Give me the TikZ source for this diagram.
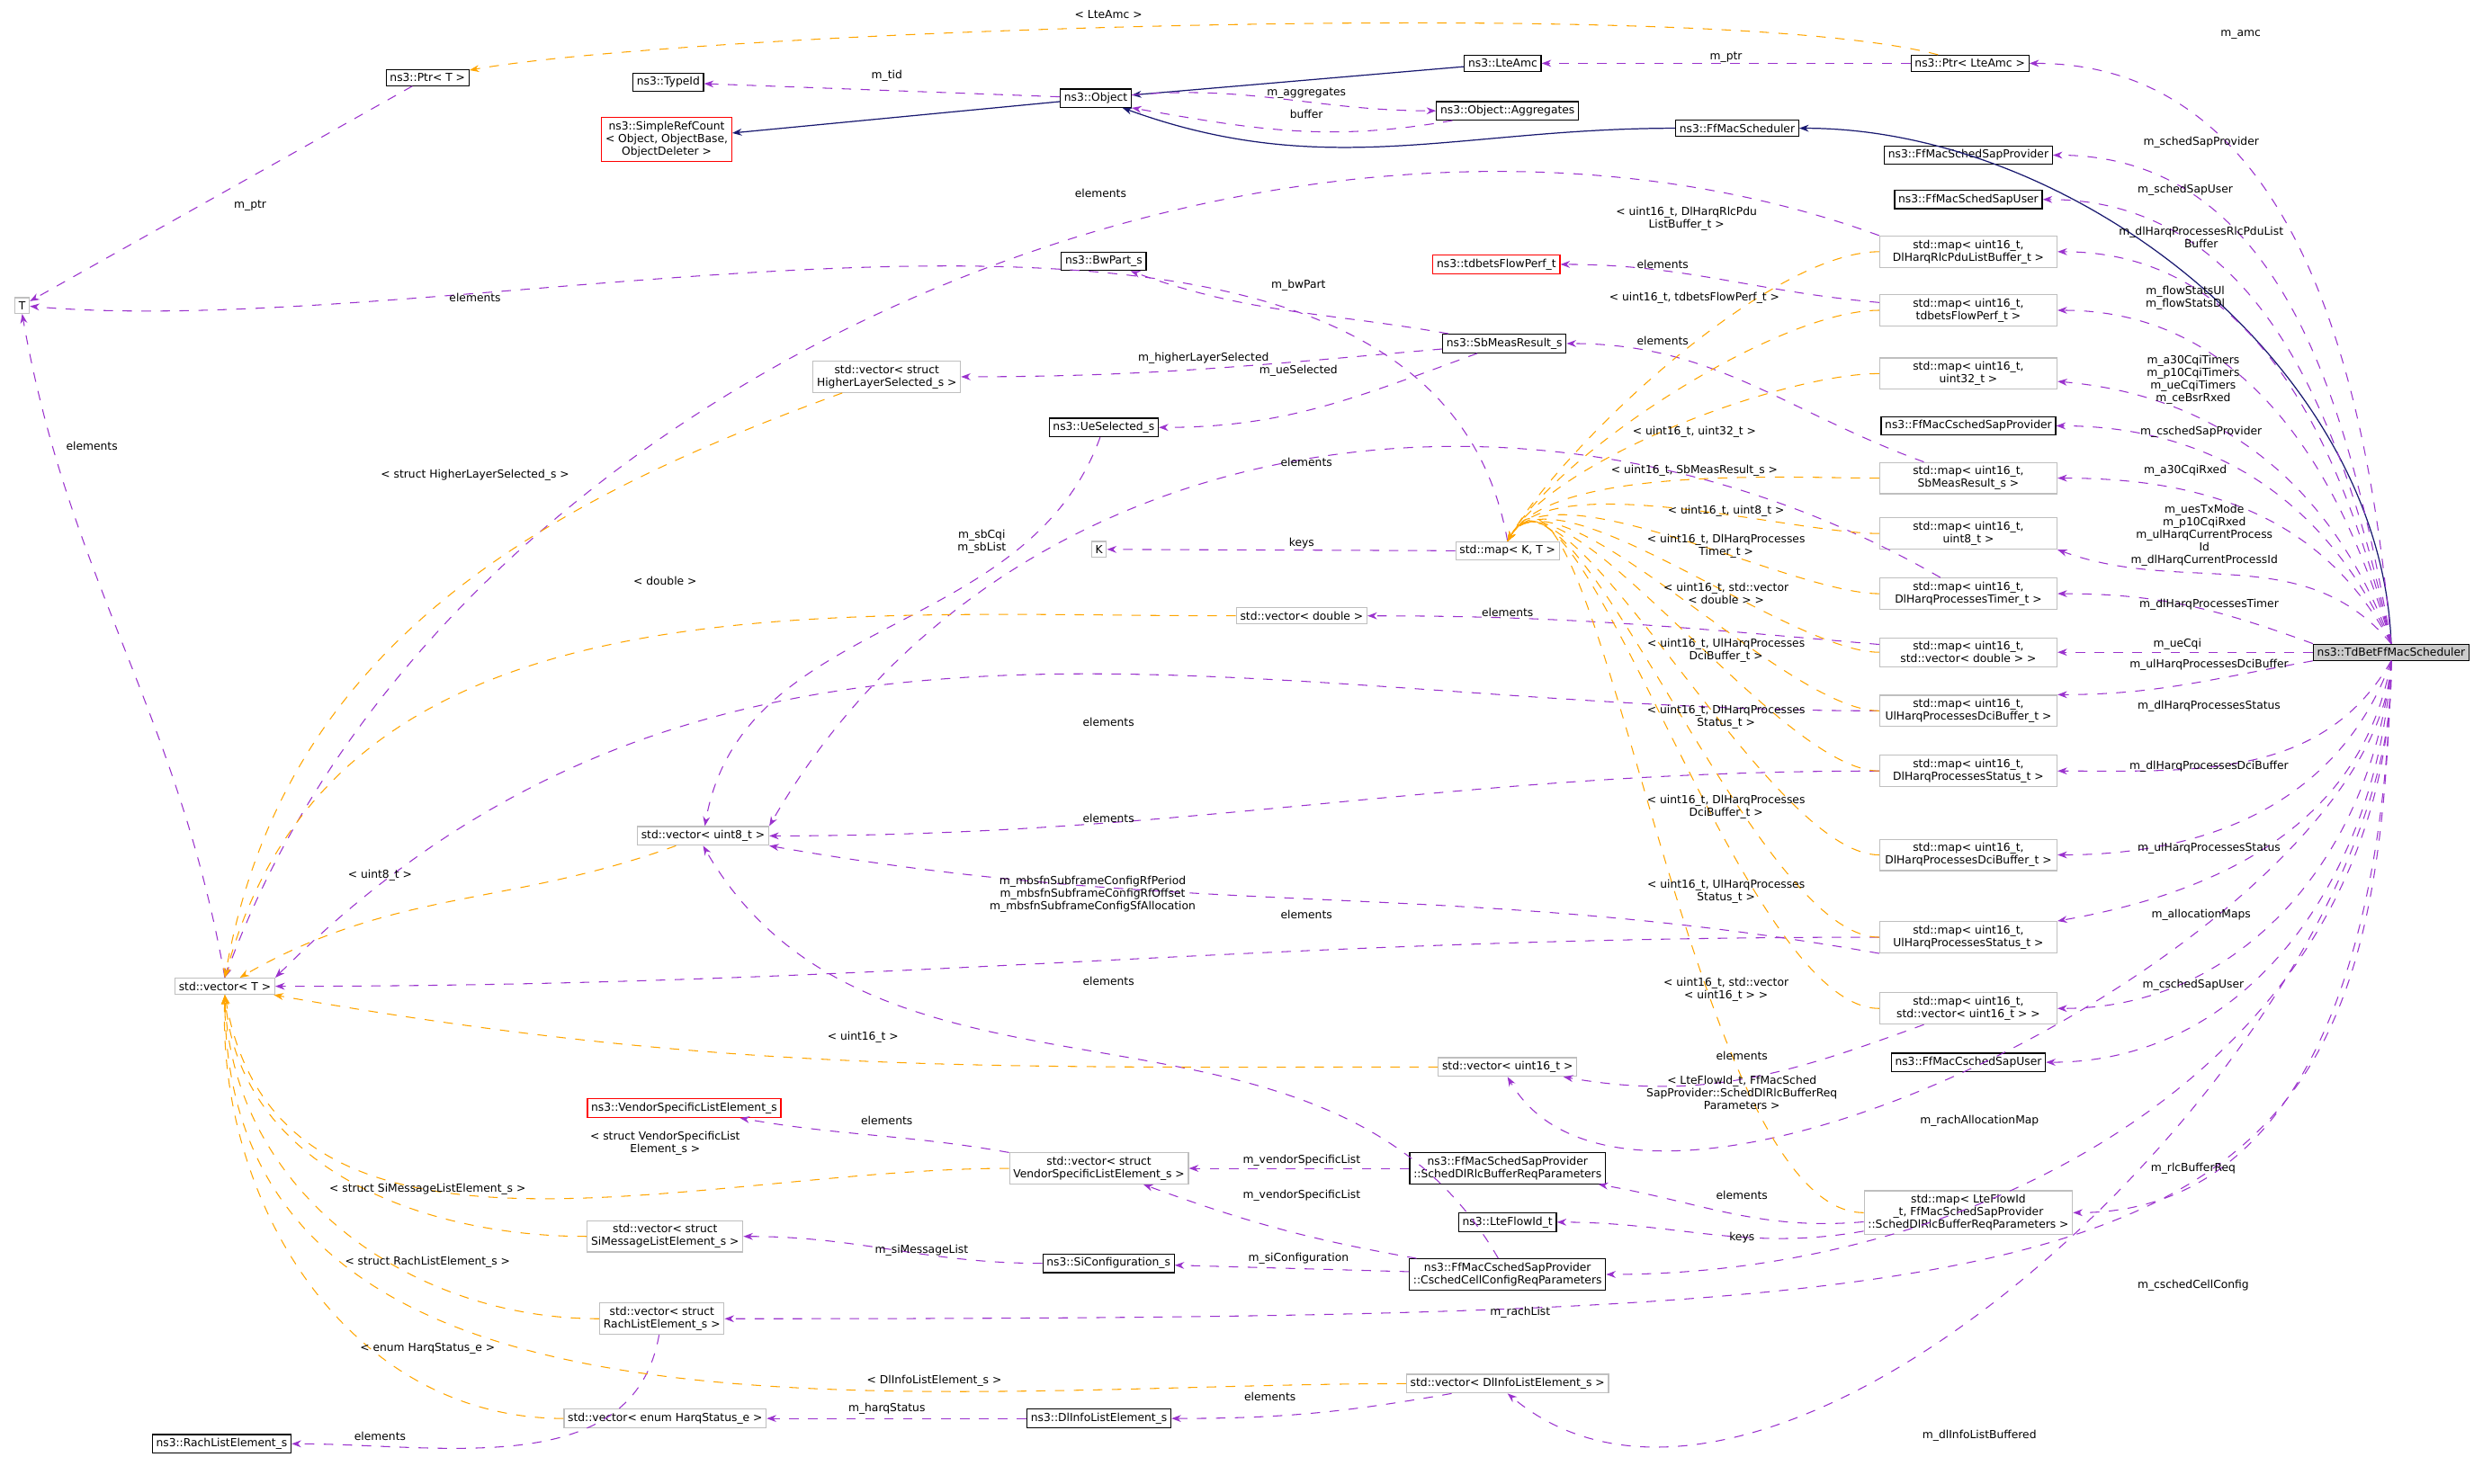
\documentclass[tikz,border=0pt]{standalone}
\usepackage{fontspec}
\setmainfont{DejaVu Sans}
\usetikzlibrary{arrows.meta}
\definecolor{memc}{HTML}{9A32CD}
\definecolor{tplc}{HTML}{FFA500}
\definecolor{inhc}{HTML}{191970}
\definecolor{grayc}{HTML}{BFBFBF}
\tikzset{
    cls/.style={
           rectangle,
           draw=black, line width=0.35pt,
           inner sep=1.2pt,
           align=center,
           font=\fontsize{3.5}{4}\selectfont,
           },
    tpl/.style={cls, draw=grayc},
    miss/.style={cls, draw=red},
    mapbox/.style={tpl, minimum width=1.97cm},
    root/.style={cls, fill=grayc!80, draw=black},
    mem/.style={draw=memc, dashed, line width=0.3pt, -{Stealth[length=3pt,width=2.2pt]}},
    tmpl/.style={draw=tplc, dashed, line width=0.3pt, -{Stealth[length=3pt,width=2.2pt]}},
    inh/.style={draw=inhc, line width=0.35pt, -{Stealth[length=3pt,width=2.2pt]}},
    lbl/.style={align=center, inner sep=0pt, font=\fontsize{3.5}{4}\selectfont},
}
\begin{document}
\begin{tikzpicture}[x=0.0176cm,y=-0.0176cm]
 \useasboundingbox (0,0) rectangle (1568,937);
 % classes
 \node[tpl] (T) at (14,193) {T};
 \node[cls] (ptrT) at (270,49) {ns3::Ptr\textless{} T \textgreater};
 \node[cls] (typeId) at (422,52) {ns3::TypeId};
 \node[miss] (simpleRef) at (421,88) {ns3::SimpleRefCount\\\textless{} Object, ObjectBase,\\ObjectDeleter \textgreater};
 \node[cls] (object) at (692,62) {ns3::Object};
 \node[cls] (lteAmc) at (949,40) {ns3::LteAmc};
 \node[cls] (aggr) at (952,70) {ns3::Object::Aggregates};
 \node[cls] (ffMac) at (1097,81) {ns3::FfMacScheduler};
 \node[cls] (ptrAmc) at (1244,40) {ns3::Ptr\textless{} LteAmc \textgreater};
 \node[cls] (schedProv) at (1243,98) {ns3::FfMacSchedSapProvider};
 \node[cls] (schedUser) at (1243,126) {ns3::FfMacSchedSapUser};
 \node[cls] (bwPart) at (697,165) {ns3::BwPart\_s};
 \node[miss] (flowPerf) at (945,167) {ns3::tdbetsFlowPerf\_t};
 \node[mapbox] (mapRlc) at (1243,159) {std::map\textless{} uint16\_t,\\DlHarqRlcPduListBuffer\_t \textgreater};
 \node[mapbox] (mapFlow) at (1243,196) {std::map\textless{} uint16\_t,\\tdbetsFlowPerf\_t \textgreater};
 \node[cls] (sbMeas) at (950,217) {ns3::SbMeasResult\_s};
 \node[tpl] (vecHigher) at (560,238) {std::vector\textless{} struct\\HigherLayerSelected\_s \textgreater};
 \node[cls] (ueSel) at (697,270) {ns3::UeSelected\_s};
 \node[mapbox] (mapU32) at (1243,236) {std::map\textless{} uint16\_t,\\uint32\_t \textgreater};
 \node[cls] (cschedProv) at (1243,269) {ns3::FfMacCschedSapProvider};
 \node[mapbox] (mapSb) at (1243,302) {std::map\textless{} uint16\_t,\\SbMeasResult\_s \textgreater};
 \node[tpl] (K) at (694,347) {K};
 \node[tpl] (mapKT) at (952,348) {std::map\textless{} K, T \textgreater};
 \node[mapbox] (mapU8) at (1243,337) {std::map\textless{} uint16\_t,\\uint8\_t \textgreater};
 \node[mapbox] (mapTimer) at (1243,375) {std::map\textless{} uint16\_t,\\DlHarqProcessesTimer\_t \textgreater};
 \node[tpl] (vecDouble) at (822,389) {std::vector\textless{} double \textgreater};
 \node[mapbox] (mapVecD) at (1243,412) {std::map\textless{} uint16\_t,\\std::vector\textless{} double \textgreater{} \textgreater};
 \node[mapbox] (mapUlDci) at (1243,449) {std::map\textless{} uint16\_t,\\UlHarqProcessesDciBuffer\_t \textgreater};
 \node[mapbox] (mapDlSt) at (1243,487) {std::map\textless{} uint16\_t,\\DlHarqProcessesStatus\_t \textgreater};
 \node[tpl] (vecU8) at (444,528) {std::vector\textless{} uint8\_t \textgreater};
 \node[mapbox] (mapDlDci) at (1243,540) {std::map\textless{} uint16\_t,\\DlHarqProcessesDciBuffer\_t \textgreater};
 \node[mapbox] (mapUlSt) at (1243,592) {std::map\textless{} uint16\_t,\\UlHarqProcessesStatus\_t \textgreater};
 \node[tpl] (vecT) at (142,623) {std::vector\textless{} T \textgreater};
 \node[mapbox] (mapVecU16) at (1243,637) {std::map\textless{} uint16\_t,\\std::vector\textless{} uint16\_t \textgreater{} \textgreater};
 \node[tpl] (vecU16) at (952,674) {std::vector\textless{} uint16\_t \textgreater};
 \node[cls] (cschedUser) at (1243,671) {ns3::FfMacCschedSapUser};
 \node[miss] (vendor) at (432,700) {ns3::VendorSpecificListElement\_s};
 \node[tpl] (vecVendor) at (694,738) {std::vector\textless{} struct\\VendorSpecificListElement\_s \textgreater};
 \node[cls] (rlcReq) at (952,738) {ns3::FfMacSchedSapProvider\\::SchedDlRlcBufferReqParameters};
 \node[cls] (flowId) at (952,772) {ns3::LteFlowId\_t};
 \node[mapbox] (mapFlowId) at (1243,766) {std::map\textless{} LteFlowId\\\_t, FfMacSchedSapProvider\\::SchedDlRlcBufferReqParameters \textgreater};
 \node[tpl] (vecSi) at (420,781) {std::vector\textless{} struct\\SiMessageListElement\_s \textgreater};
 \node[cls] (siConf) at (700,798) {ns3::SiConfiguration\_s};
 \node[cls] (cellConf) at (952,805) {ns3::FfMacCschedSapProvider\\::CschedCellConfigReqParameters};
 \node[tpl] (vecRach) at (418,833) {std::vector\textless{} struct\\RachListElement\_s \textgreater};
 \node[tpl] (vecDlInfo) at (952,874) {std::vector\textless{} DlInfoListElement\_s \textgreater};
 \node[tpl] (vecHarq) at (420,896) {std::vector\textless{} enum HarqStatus\_e \textgreater};
 \node[cls] (dlInfo) at (694,896) {ns3::DlInfoListElement\_s};
 \node[cls] (rach) at (140,912) {ns3::RachListElement\_s};
 \node[root] (tdbet) at (1510,412) {ns3::TdBetFfMacScheduler};

 % inheritance
 \draw[inh] (tdbet.north) to[out=92,in=0,looseness=0.9] (ffMac);
 \draw[inh] (ffMac) to[out=180,in=-20] (object);
 \draw[inh] (lteAmc) -- (object);
 \draw[inh] (object) -- (simpleRef);

 % members of the scheduler
 \draw[mem] (tdbet.north) to[out=95,in=0] (ptrAmc);
 \draw[mem] (tdbet.north) to[out=100,in=0] (schedProv);
 \draw[mem] (tdbet.north) to[out=102,in=0] (schedUser);
 \draw[mem] (tdbet.north) to[out=104,in=0] (mapRlc);
 \draw[mem] (tdbet.north) to[out=106,in=0] (mapFlow);
 \draw[mem] (tdbet.north) to[out=110,in=-5] (mapU32);
 \draw[mem] (tdbet.north) to[out=114,in=0] (cschedProv);
 \draw[mem] (tdbet.north) to[out=118,in=0] (mapSb);
 \draw[mem] (tdbet.north) to[out=130,in=-20] (mapU8.south east);
 \draw[mem] (tdbet.north west) to[out=160,in=0] (mapTimer);
 \draw[mem] (tdbet) -- (mapVecD);
 \draw[mem] (tdbet.south west) to[out=190,in=0] (mapUlDci.north east);
 \draw[mem] (tdbet.south) to[out=-120,in=0] (mapDlSt);
 \draw[mem] (tdbet.south) to[out=-110,in=0] (mapDlDci);
 \draw[mem] (tdbet.south) to[out=-100,in=10] (mapUlSt.north east);
 \draw[mem] (tdbet.south) to[out=-95,in=0] (mapVecU16);
 \draw[mem] (tdbet.south) to[out=-93,in=0] (cschedUser);
 \draw[mem] (tdbet.south) to[out=-92,in=-60,looseness=0.7] (vecU16.south);
 \draw[mem] (tdbet.south) to[out=-91,in=0] (mapFlowId);
 \draw[mem] (tdbet.south) to[out=-90,in=0] (cellConf);
 \draw[mem] (tdbet.south) .. controls (1500,815) and (1380,833) .. (vecRach.east);
 \draw[mem] (tdbet.south) to[out=-88,in=-40,looseness=0.8] (vecDlInfo.south);

 % other members
 \draw[mem] (object) -- (typeId);
 \draw[mem] (object) to[out=5,in=180] (aggr);
 \draw[mem] (aggr) to[out=190,in=-10] (object.south east);
 \draw[mem] (ptrAmc) -- (lteAmc);
 \draw[mem] (ptrT) -- (T);
 \draw[mem] (vecT.north) to[out=100,in=-80] (T.south);
 \draw[mem] (mapRlc.north west) to[out=160,in=70,looseness=0.9] (vecT.north);
 \draw[mem] (mapKT.north) to[out=100,in=-5,looseness=0.8] (T);
 \draw[mem] (sbMeas) to[out=170,in=-20] (bwPart);
 \draw[mem] (sbMeas) to[out=185,in=0] (vecHigher);
 \draw[mem] (sbMeas) to[out=200,in=0] (ueSel);
 \draw[mem] (mapFlow) to[out=175,in=0] (flowPerf);
 \draw[mem] (mapSb) to[out=160,in=0] (sbMeas);
 \draw[mem] (ueSel) to[out=-110,in=80] (vecU8);
 \draw[mem] (mapTimer) to[out=150,in=60] (vecU8.north east);
 \draw[mem] (mapKT) -- (K);
 \draw[mem] (mapVecD) to[out=175,in=0] (vecDouble);
 \draw[mem] (mapUlDci) to[out=180,in=45] (vecT.north east);
 \draw[mem] (mapDlSt) to[out=180,in=0] (vecU8);
 \draw[mem] (mapUlSt) to[out=180,in=0] (vecT);
 \draw[mem] (mapUlSt.south west) to[out=170,in=-10] (vecU8.south east);
 \draw[mem] (cellConf) to[out=120,in=-60] (vecU8.south);
 \draw[mem] (mapVecU16) to[out=200,in=-10] (vecU16);
 \draw[mem] (vecVendor) to[out=170,in=-10] (vendor);
 \draw[mem] (rlcReq) -- (vecVendor);
 \draw[mem] (cellConf) to[out=170,in=-20] (vecVendor);
 \draw[mem] (mapFlowId) to[out=185,in=-10] (rlcReq);
 \draw[mem] (mapFlowId) to[out=190,in=0] (flowId);
 \draw[mem] (siConf) to[out=180,in=0] (vecSi);
 \draw[mem] (cellConf) -- (siConf);
 \draw[mem] (vecRach) to[out=-100,in=0] (rach);
 \draw[mem] (dlInfo) -- (vecHarq);
 \draw[mem] (vecDlInfo) to[out=-170,in=0] (dlInfo);

 % template instances
 \draw[tmpl] (ptrAmc) to[out=165,in=10,looseness=0.4] (ptrT);
 \draw[tmpl] (vecHigher) to[out=200,in=80] (vecT.north);
 \draw[tmpl] (vecDouble) to[out=180,in=75] (vecT.north);
 \draw[tmpl] (vecU8) to[out=200,in=30] (vecT);
 \draw[tmpl] (vecU16) to[out=180,in=-10] (vecT);
 \draw[tmpl] (vecVendor) to[out=180,in=-80] (vecT.south);
 \draw[tmpl] (vecSi) to[out=180,in=-85] (vecT.south);
 \draw[tmpl] (vecRach) to[out=180,in=-88] (vecT.south);
 \draw[tmpl] (vecDlInfo) to[out=180,in=-90] (vecT.south);
 \draw[tmpl] (vecHarq) to[out=180,in=-92] (vecT.south);
 \foreach \m in {mapRlc,mapFlow,mapU32,mapSb,mapU8,mapTimer,mapVecD,mapUlDci,mapDlSt,mapDlDci,mapUlSt,mapVecU16,mapFlowId}
   \draw[tmpl] (\m.west) to[out=180,in=60,looseness=0.6] (mapKT.north);

 % labels
 \node[lbl] (lAmc) at (1415,22) {m\_amc};
 \node[lbl] (lSP) at (1390,90) {m\_schedSapProvider};
 \node[lbl] (lSU) at (1380,120) {m\_schedSapUser};
 \node[lbl] (lRlc) at (1390,150) {m\_dlHarqProcessesRlcPduList\\Buffer};
 \node[lbl] (lFlow) at (1380,188) {m\_flowStatsUl\\m\_flowStatsDl};
 \node[lbl] (lU32) at (1385,240) {m\_a30CqiTimers\\m\_p10CqiTimers\\m\_ueCqiTimers\\m\_ceBsrRxed};
 \node[lbl] (lCSP) at (1390,273) {m\_cschedSapProvider};
 \node[lbl] (lSb) at (1380,297) {m\_a30CqiRxed};
 \node[lbl] (lU8) at (1392,338) {m\_uesTxMode\\m\_p10CqiRxed\\m\_ulHarqCurrentProcess\\Id\\m\_dlHarqCurrentProcessId};
 \node[lbl] (lTim) at (1395,382) {m\_dlHarqProcessesTimer};
 \node[lbl] (lCqi) at (1375,407) {m\_ueCqi};
 \node[lbl] (lUlDci) at (1395,420) {m\_ulHarqProcessesDciBuffer};
 \node[lbl] (lDlSt) at (1395,446) {m\_dlHarqProcessesStatus};
 \node[lbl] (lDlDci) at (1395,484) {m\_dlHarqProcessesDciBuffer};
 \node[lbl] (lUlSt) at (1395,536) {m\_ulHarqProcessesStatus};
 \node[lbl] (lAlloc) at (1390,578) {m\_allocationMaps};
 \node[lbl] (lCSU) at (1385,622) {m\_cschedSapUser};
 \node[lbl] (lRachA) at (1250,708) {m\_rachAllocationMap};
 \node[lbl] (lRlcReq) at (1385,738) {m\_rlcBufferReq};
 \node[lbl] (lCell) at (1385,812) {m\_cschedCellConfig};
 \node[lbl] (lRachL) at (960,829) {m\_rachList};
 \node[lbl] (lDlInfoB) at (1250,907) {m\_dlInfoListBuffered};
 \node[lbl] (lTid) at (560,48) {m\_tid};
 \node[lbl] (lAggr) at (825,59) {m\_aggregates};
 \node[lbl] (lBuf) at (825,72) {buffer};
 \node[lbl] (lPtrA) at (1090,36) {m\_ptr};
 \node[lbl] (lPtrT) at (158,130) {m\_ptr};
 \node[lbl] (lLteAmcT) at (700,9) {\textless{} LteAmc \textgreater};
 \node[lbl] (lEl1) at (695,122) {elements};
 \node[lbl] (lEl2) at (300,188) {elements};
 \node[lbl] (lEl3) at (58,282) {elements};
 \node[lbl] (lBw) at (820,180) {m\_bwPart};
 \node[lbl] (lHigh) at (760,226) {m\_higherLayerSelected};
 \node[lbl] (lUeSel) at (820,234) {m\_ueSelected};
 \node[lbl] (lEl4) at (1050,167) {elements};
 \node[lbl] (lEl5) at (1050,215) {elements};
 \node[lbl] (lHighT) at (300,300) {\textless{} struct HigherLayerSelected\_s \textgreater};
 \node[lbl] (lSbCqi) at (620,342) {m\_sbCqi\\m\_sbList};
 \node[lbl] (lEl6) at (825,292) {elements};
 \node[lbl] (lKeys) at (822,343) {keys};
 \node[lbl] (lDblT) at (420,367) {\textless{} double \textgreater};
 \node[lbl] (lEl7) at (952,387) {elements};
 \node[lbl] (lEl8) at (700,456) {elements};
 \node[lbl] (lEl9) at (700,517) {elements};
 \node[lbl] (lU8T) at (240,553) {\textless{} uint8\_t \textgreater};
 \node[lbl] (lEl10) at (700,620) {elements};
 \node[lbl] (lEl11) at (825,578) {elements};
 \node[lbl] (lMbsfn) at (690,565) {m\_mbsfnSubframeConfigRfPeriod\\m\_mbsfnSubframeConfigRfOffset\\m\_mbsfnSubframeConfigSfAllocation};
 \node[lbl] (lU16T) at (545,655) {\textless{} uint16\_t \textgreater};
 \node[lbl] (lEl12) at (1100,667) {elements};
 \node[lbl] (lEl13) at (560,708) {elements};
 \node[lbl] (lVendT) at (420,722) {\textless{} struct VendorSpecificList\\Element\_s \textgreater};
 \node[lbl] (lVend1) at (822,733) {m\_vendorSpecificList};
 \node[lbl] (lVend2) at (822,755) {m\_vendorSpecificList};
 \node[lbl] (lEl14) at (1100,755) {elements};
 \node[lbl] (lKeys2) at (1100,782) {keys};
 \node[lbl] (lSiT) at (270,751) {\textless{} struct SiMessageListElement\_s \textgreater};
 \node[lbl] (lSiMsg) at (582,790) {m\_siMessageList};
 \node[lbl] (lSiConf) at (820,795) {m\_siConfiguration};
 \node[lbl] (lRachT) at (270,797) {\textless{} struct RachListElement\_s \textgreater};
 \node[lbl] (lEl15) at (240,907) {elements};
 \node[lbl] (lDlInfoT) at (590,872) {\textless{} DlInfoListElement\_s \textgreater};
 \node[lbl] (lHarqT) at (270,852) {\textless{} enum HarqStatus\_e \textgreater};
 \node[lbl] (lHarq) at (560,890) {m\_harqStatus};
 \node[lbl] (lEl16) at (802,882) {elements};
 \node[lbl] (tRlc) at (1065,138) {\textless{} uint16\_t, DlHarqRlcPdu\\ListBuffer\_t \textgreater};
 \node[lbl] (tFlow) at (1070,188) {\textless{} uint16\_t, tdbetsFlowPerf\_t \textgreater};
 \node[lbl] (tU32) at (1070,273) {\textless{} uint16\_t, uint32\_t \textgreater};
 \node[lbl] (tSb) at (1070,297) {\textless{} uint16\_t, SbMeasResult\_s \textgreater};
 \node[lbl] (tU8) at (1090,323) {\textless{} uint16\_t, uint8\_t \textgreater};
 \node[lbl] (tTim) at (1090,345) {\textless{} uint16\_t, DlHarqProcesses\\Timer\_t \textgreater};
 \node[lbl] (tVecD) at (1090,375) {\textless{} uint16\_t, std::vector\\\textless{} double \textgreater{} \textgreater};
 \node[lbl] (tUlDci) at (1090,411) {\textless{} uint16\_t, UlHarqProcesses\\DciBuffer\_t \textgreater};
 \node[lbl] (tDlSt) at (1090,453) {\textless{} uint16\_t, DlHarqProcesses\\Status\_t \textgreater};
 \node[lbl] (tDlDci) at (1090,510) {\textless{} uint16\_t, DlHarqProcesses\\DciBuffer\_t \textgreater};
 \node[lbl] (tUlSt) at (1090,563) {\textless{} uint16\_t, UlHarqProcesses\\Status\_t \textgreater};
 \node[lbl] (tVecU16) at (1090,625) {\textless{} uint16\_t, std::vector\\\textless{} uint16\_t \textgreater{} \textgreater};
 \node[lbl] (tFlowId) at (1100,690) {\textless{} LteFlowId\_t, FfMacSched\\SapProvider::SchedDlRlcBufferReq\\Parameters \textgreater};
\end{tikzpicture}
\end{document}
